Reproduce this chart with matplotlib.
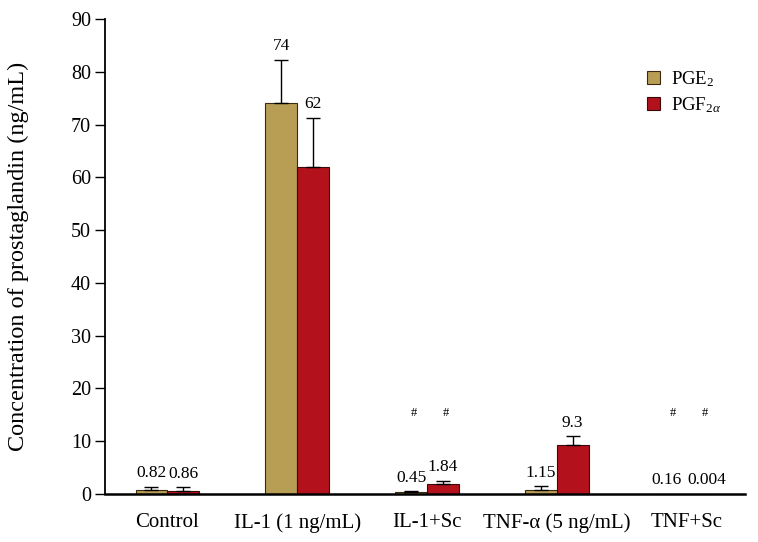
import matplotlib
matplotlib.use("Agg")
import matplotlib.pyplot as plt
import numpy as np

categories = ["Control", "IL-1 (1 ng/mL)", "IL-1+Sc", "TNF-α (5 ng/mL)", "TNF+Sc"]
pge2 = [0.82, 74, 0.45, 0.8, 0.0]
pge2_err = [0.6, 8.3, 0.1, 0.7, 0.0]
pge2_labels = ["0.82", "74", "0.45", "1.15", "0.16"]
pgf = [0.6, 62, 1.84, 9.3, 0.0]
pgf_err = [0.7, 9.3, 0.65, 1.6, 0.0]
pgf_labels = ["0.86", "62", "1.84", "9.3", "0.004"]
hash_groups = [2, 4]
yticks = [0, 10, 20, 30, 40, 50, 60, 70, 80, 90]

plt.rcParams['font.family'] = ['Liberation Serif', 'DejaVu Serif']
plt.rcParams['mathtext.fontset'] = 'custom'
plt.rcParams['mathtext.rm'] = 'Liberation Serif'
plt.rcParams['mathtext.it'] = 'Liberation Serif:italic'

fig = plt.figure(figsize=(7.58, 5.42), dpi=100)
ax = fig.add_axes([105/758, 1-494/542, 640/758, 475/542])

x = np.arange(len(categories))
w = 0.245
c1 = "#B89E55"
c2 = "#B3111B"
b1 = ax.bar(x - w/2, pge2, w, color=c1, edgecolor="#3a2a10", linewidth=0.8, label="PGE$_2$")
b2 = ax.bar(x + w/2, pgf, w, color=c2, edgecolor="#3a0a0a", linewidth=0.8, label="PGF$_{2\\alpha}$")
for xs, vals, errs in [(x - w/2, pge2, pge2_err), (x + w/2, pgf, pgf_err)]:
    for xi, v, e in zip(xs, vals, errs):
        if e > 0:
            ax.errorbar(xi, v, yerr=[[0], [e]], color="black", capsize=5, linewidth=1, capthick=1)

for sgn, xs, vals, errs, labs in [(-1, x - w/2, pge2, pge2_err, pge2_labels), (1, x + w/2, pgf, pgf_err, pgf_labels)]:
    for xi, v, e, lab in zip(xs, vals, errs, labs):
        dx = 3 * sgn if len(lab) >= 5 or (sgn < 0 and e == 0 and v == 0) else 0
        ax.annotate(lab, (xi, v + e), xytext=(dx, 4), textcoords="offset points",
                    ha="center", va="bottom", fontsize=12.5)

for g in hash_groups:
    for xi in (g - w/2, g + w/2):
        ax.text(xi + 0.02, 15.3, "#", ha="center", va="center", fontsize=9)

ax.set_ylim(0, 90)
ax.set_xlim(-0.48, 4.45)
ax.set_yticks(yticks)
ax.set_xticks(x)
ax.set_xticklabels(categories, fontsize=15)
ax.tick_params(axis="x", length=0, pad=14)
ax.tick_params(axis="y", direction="out", length=7, width=1, labelsize=14.5, pad=3)
for s in ["top", "right"]:
    ax.spines[s].set_visible(False)
ax.spines["left"].set_linewidth(1.3)
ax.spines["bottom"].set_linewidth(1.8)
ax.set_ylabel("Concentration of prostaglandin (ng/mL)", fontsize=17.5, labelpad=30)

ax.legend(loc="upper right", bbox_to_anchor=(0.99, 0.93), frameon=False, fontsize=13.5,
          handlelength=0.7, handleheight=0.7, handletextpad=0.6, labelspacing=0.35)

fig.savefig("out.png", dpi=100)
